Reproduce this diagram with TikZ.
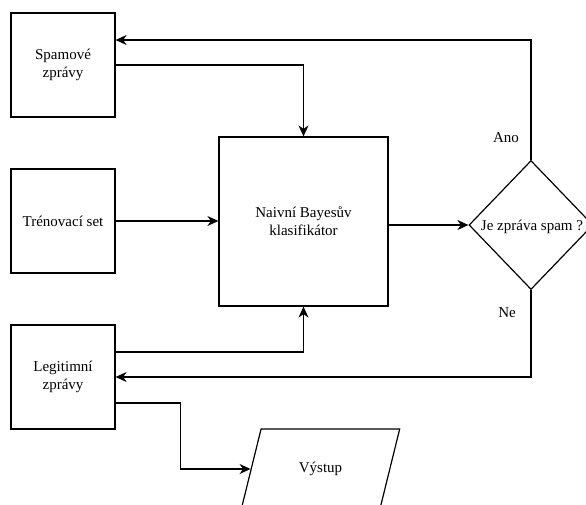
\documentclass[tikz,border=0pt]{standalone}
\usepackage{fontspec}
\setmainfont{Liberation Serif}
\usetikzlibrary{arrows.meta,shapes.geometric,calc}
\begin{document}
\begin{tikzpicture}[x=1pt,y=-1pt,
  every node/.style={font=\rmfamily\fontsize{15}{18}\selectfont, text=black},
  box/.style={draw, line width=1.2pt, minimum width=104pt, minimum height=104pt, inner sep=0pt, align=center},
  link/.style={draw, line width=1.2pt},
  arr/.style={link, -{Stealth[length=11pt,width=10pt,inset=3.5pt]}},
]
\useasboundingbox (0,0) rectangle (586,504);

% boxes
\node[box] (spam) at (63,65) {Spamové\\zprávy};
\node[box] (train) at (63,221) {Trénovací set};
\node[box] (legit) at (63,377) {Legitimní\\zprávy};
\node[box, minimum width=169pt, minimum height=169pt] (clf) at (303.5,221.5) {Naivní Bayesův\\klasifikátor};

% decision
\node[diamond, draw, line width=1.2pt, minimum width=124pt, minimum height=129pt, inner sep=0pt] (dec) at (531,225) {};
\node (declabel) at (532,227) {Je zpráva spam ?};

% output
\node[trapezium, draw, line width=1.2pt, trapezium left angle=66, trapezium right angle=114,
      trapezium stretches=true, minimum width=159pt, minimum height=80pt, inner sep=2pt] (out) at (320.5,469) {Výstup};

% branch labels
\node (ano) at (506,138) {Ano};
\node (ne) at (507,313) {Ne};

% connectors
\draw[arr] (spam.east) -| (clf.north);
\draw[arr] (train.east) -- (train.east -| clf.west);
\draw[arr] ([yshift=25pt]legit.east) -| (clf.south);
\draw[arr] (clf.east |- dec.west) -- (dec.west);
\draw[arr] (dec.north) |- ([yshift=25pt]spam.east);
\draw[arr] (dec.south) |- (legit.east);
\draw[arr] ([yshift=-26pt]legit.east) -- ++(65,0) |- (out.west);
\end{tikzpicture}
\end{document}
